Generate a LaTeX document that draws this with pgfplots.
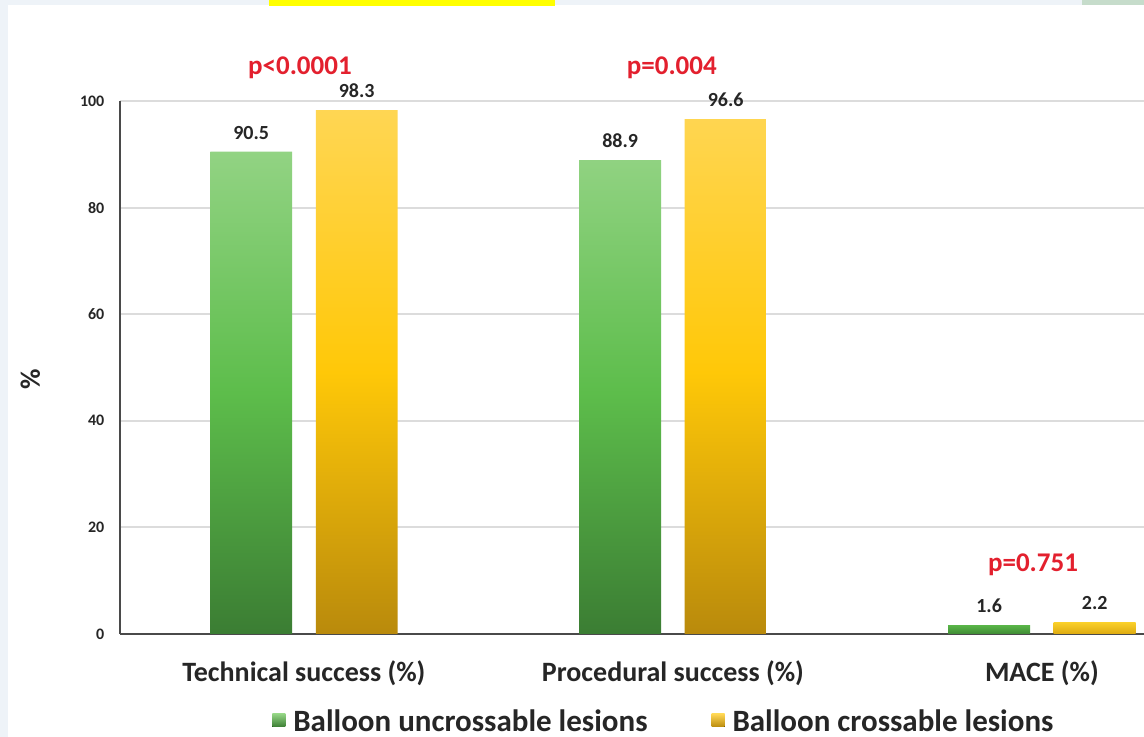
\documentclass[border=0pt]{standalone}
\usepackage{pgfplots}
\pgfplotsset{compat=1.18}
\usepackage{fontspec}
\setmainfont{Carlito}

\definecolor{gTop}{HTML}{92D383}
\definecolor{gMid}{HTML}{5DBD4B}
\definecolor{gBot}{HTML}{3B7D33}
\definecolor{yTop}{HTML}{FFD653}
\definecolor{yMid}{HTML}{FFC808}
\definecolor{yBot}{HTML}{B98A0C}
\definecolor{gSmallTop}{HTML}{58B447}
\definecolor{gSmallBot}{HTML}{3F8A35}
\definecolor{ySmallTop}{HTML}{FAD02A}
\definecolor{ySmallBot}{HTML}{DDAA10}
\definecolor{pred}{HTML}{E3202E}
\definecolor{textdark}{HTML}{262626}
\definecolor{axisgray}{HTML}{4A4A4A}
\definecolor{gridgray}{HTML}{DCDCDC}
\definecolor{paleblue}{HTML}{EEF3F8}
\definecolor{hiyellow}{HTML}{FFFF00}
\definecolor{cornergreen}{HTML}{C6DCCB}

\begin{document}
\begin{tikzpicture}
  % page frame
  \useasboundingbox (0,0) rectangle (572pt,368.5pt);
  \fill[white] (0,0) rectangle (572pt,368.5pt);
  \fill[paleblue] (0,0) rectangle (4pt,368.5pt);
  \fill[paleblue] (0,366pt) rectangle (572pt,368.5pt);
  \fill[hiyellow] (134.5pt,365.5pt) rectangle (277.5pt,368.5pt);
  \fill[cornergreen] (541pt,366pt) rectangle (572pt,368.5pt);

  \begin{axis}[
    at={(60pt,51.5pt)}, anchor=south west,
    scale only axis, width=515pt, height=266.5pt,
    xmin=-0.4986, xmax=2.293, ymin=0, ymax=100,
    clip=false,
    axis x line*=bottom, axis y line*=left,
    axis line style={draw=axisgray, line width=1pt},
    major tick length=0pt,
    ymajorgrids, grid style={draw=gridgray, line width=1pt},
    ytick={0,20,40,60,80,100},
    yticklabel style={font=\bfseries\fontsize{8}{9}\selectfont, text=textdark,
      anchor=east, xshift=-4.3pt},
    /pgf/number format/assume math mode=true,
    xtick={0,1,2},
    xticklabels={Technical success (\%), Procedural success (\%), MACE (\%)},
    xticklabel style={font=\bfseries\fontsize{14}{16}\selectfont, text=textdark,
      anchor=base, yshift=-24pt},
    ylabel={\%},
    every axis y label/.style={at={(axis description cs:-0.087,0.477)},
      rotate=90, anchor=center, font=\bfseries\fontsize{14}{16}\selectfont, text=textdark},
    ybar, bar width=0.222,
    nodes near coords={\pgfmathprintnumber[fixed,fixed zerofill,precision=1,assume math mode=true]{\pgfplotspointmeta}},
    every node near coord/.append style={font=\bfseries\fontsize{10}{12}\selectfont,
      text=textdark, anchor=south, inner sep=0pt, yshift=6pt},
    legend columns=2,
    legend style={at={(axis description cs:0.529,0)}, anchor=center, yshift=-44pt,
      draw=none, fill=none, inner sep=0pt,
      font=\bfseries\fontsize{15.5}{17}\selectfont, text=textdark,
      /tikz/every odd column/.append style={column sep=2pt},
      /tikz/every even column/.append style={column sep=30pt}},
  ]
    % balloon uncrossable lesions
    \addplot[bar shift=-0.143, draw=none,
      top color=gTop, bottom color=gBot, middle color=gMid,
      legend image code/.code={\fill[top color=gTop, bottom color=gBot] (0pt,-2.5pt) rectangle (6.5pt,4pt);}]
      coordinates {(0,90.5) (1,88.9)};
    \addlegendentry{Balloon uncrossable lesions}
    % balloon crossable lesions
    \addplot[bar shift=0.143, draw=none,
      top color=yTop, bottom color=yBot, middle color=yMid,
      legend image code/.code={\fill[top color=yTop, bottom color=yBot] (0pt,-2.5pt) rectangle (6.5pt,4pt);}]
      coordinates {(0,98.3) (1,96.6)};
    \addlegendentry{Balloon crossable lesions}
    % MACE bars
    \addplot[forget plot, bar shift=-0.143, draw=none,
      top color=gSmallTop, bottom color=gSmallBot]
      coordinates {(2,1.6)};
    \addplot[forget plot, bar shift=0.143, draw=none,
      top color=ySmallTop, bottom color=ySmallBot]
      coordinates {(2,2.2)};

    % p values
    \node[text=pred, font=\bfseries\fontsize{13.5}{15}\selectfont] at (axis cs:-0.011,106.2) {p<0.0001};
    \node[text=pred, font=\bfseries\fontsize{13.5}{15}\selectfont] at (axis cs:0.997,106.2) {p=0.004};
    \node[text=pred, font=\bfseries\fontsize{13.5}{15}\selectfont] at (axis cs:1.976,12.9) {p=0.751};
  \end{axis}
\end{tikzpicture}
\end{document}
